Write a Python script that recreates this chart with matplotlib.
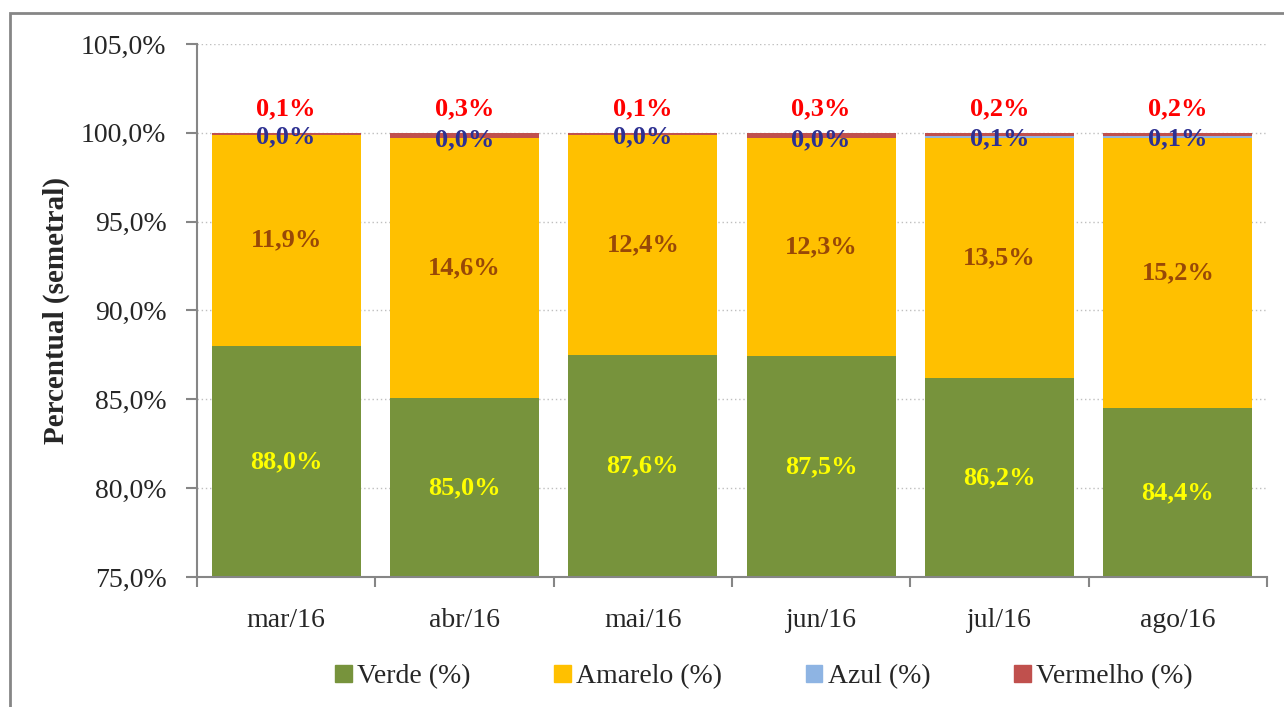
"""Stacked share of Verde/Amarelo/Azul/Vermelho per month, Excel-style."""

import matplotlib

matplotlib.use("Agg")

import matplotlib.pyplot as plt
import numpy as np
from matplotlib.patches import Rectangle

MONTHS = ["mar/16", "abr/16", "mai/16", "jun/16", "jul/16", "ago/16"]
VERDE = [88.0, 85.0, 87.6, 87.5, 86.2, 84.4]
AMARELO = [11.9, 14.6, 12.4, 12.3, 13.5, 15.2]
AZUL = [0.0, 0.0, 0.0, 0.0, 0.1, 0.1]
VERMELHO = [0.1, 0.3, 0.1, 0.3, 0.2, 0.2]

SERIES = ["Verde (%)", "Amarelo (%)", "Azul (%)", "Vermelho (%)"]
COLORS = ["#77933C", "#FFC000", "#8EB4E3", "#C0504D"]
LABEL_COLORS = ["#FFFF00", "#984807", "#2E3192", "#FF0000"]

plt.rcParams["font.family"] = ["Liberation Serif", "DejaVu Serif"]
LBL = 19


def fmt(v):
    return f"{v:.1f}%".replace(".", ",")


fig = plt.figure(figsize=(12.84, 7.07), dpi=100)
ax = fig.add_axes([0.1534, 0.1839, 0.8334, 0.7539])

# outer chart frame (only left/top visible in the original crop)
fig.patches.append(Rectangle((10 / 1284, -0.01), 1.02, 1 - 13 / 707 + 0.01,
                             transform=fig.transFigure, fill=False,
                             edgecolor="#868686", lw=2))

data = np.array([VERDE, AMARELO, AZUL, VERMELHO])
# Excel stacks the unrounded shares, so every column closes at 100%
shares = data / data.sum(axis=0) * 100

x = np.arange(len(MONTHS))
width = 0.835
bottom = np.zeros(len(MONTHS))
starts = []
for vals, color in zip(shares, COLORS):
    ax.bar(x, vals, width, bottom=bottom, color=color, zorder=2)
    starts.append(bottom.copy())
    bottom = bottom + vals

ymin, ymax = 75, 105
for i in range(len(MONTHS)):
    # verde: centred in the visible part of the bar
    ax.text(x[i], (ymin + starts[1][i]) / 2, fmt(VERDE[i]), ha="center", va="center",
            color=LABEL_COLORS[0], fontsize=LBL, fontweight="bold", zorder=3)
    ax.text(x[i], starts[1][i] + shares[1][i] / 2, fmt(AMARELO[i]), ha="center",
            va="center", color=LABEL_COLORS[1], fontsize=LBL, fontweight="bold", zorder=3)
    ax.text(x[i], starts[2][i] + shares[2][i] / 2 - 0.1, fmt(AZUL[i]), ha="center",
            va="center", color=LABEL_COLORS[2], fontsize=LBL, fontweight="bold", zorder=3)
    ax.annotate(fmt(VERMELHO[i]), (x[i], bottom[i]), xytext=(0, 17),
                textcoords="offset points", ha="center", va="center",
                color=LABEL_COLORS[3], fontsize=LBL, fontweight="bold", zorder=3)

ax.set_xlim(-0.5, len(MONTHS) - 0.5)
ax.set_ylim(ymin, ymax)
ax.set_yticks(np.arange(75, 106, 5))
ax.set_yticklabels([fmt(v) for v in np.arange(75, 106, 5)], fontsize=20, color="#262626")
ax.set_xticks(x)
ax.set_xticklabels(MONTHS, fontsize=20, color="#262626")
ax.set_xticks(np.arange(-0.5, len(MONTHS)), minor=True)
ax.tick_params(axis="x", which="major", length=0, pad=22)
ax.tick_params(axis="x", which="minor", length=7, width=1.5, color="#868686")
ax.tick_params(axis="y", length=8, width=1.5, color="#868686", pad=14)
ax.grid(axis="y", color="#BFBFBF", ls=(0, (1, 2)), lw=1, zorder=0)
for side in ["top", "right"]:
    ax.spines[side].set_visible(False)
for side in ["left", "bottom"]:
    ax.spines[side].set_color("#868686")
    ax.spines[side].set_linewidth(1.5)
    ax.spines[side].set_zorder(4)
ax.set_ylabel("Percentual (semetral)", fontsize=21, fontweight="bold",
              color="#262626", labelpad=8)

handles = [plt.Rectangle((0, 0), 1, 1, color=c) for c in COLORS]
fig.legend(handles, SERIES, loc="center", bbox_to_anchor=(0.595, 0.043), ncol=4,
           frameon=False, fontsize=20, handlelength=0.6, handleheight=0.6,
           handletextpad=0.2, columnspacing=3.0, labelcolor="#262626")

fig.savefig("out.png", dpi=100)
